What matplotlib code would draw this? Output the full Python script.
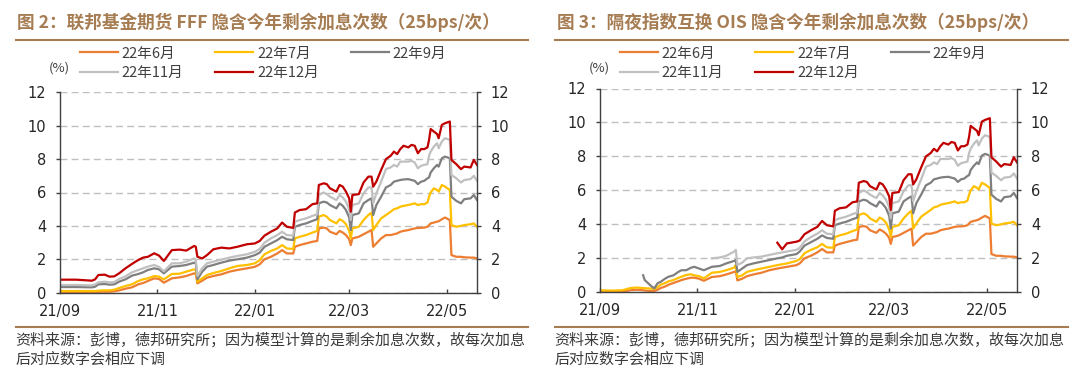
import matplotlib
matplotlib.use("Agg")
import matplotlib.pyplot as plt
import matplotlib.dates as mdates
from matplotlib.lines import Line2D
import numpy as np
import pandas as pd

nan = np.nan
CJK = ["Noto Sans CJK SC", "DejaVu Sans"]

series_names = ["22年6月", "22年7月", "22年9月", "22年11月", "22年12月"]
line_colors = ["#ED7D31", "#FFC000", "#7F7F7F", "#C0C0C0", "#C00000"]

# ---------------------------------------------------------------------------
# FFF chart, Sep 2021 - early Jan 2022
fff_dates = ["2021-09-01", "2021-09-11", "2021-09-21", "2021-09-23", "2021-09-25", "2021-09-29",
             "2021-10-02", "2021-10-05", "2021-10-08", "2021-10-12", "2021-10-16", "2021-10-20",
             "2021-10-23", "2021-10-26", "2021-10-30", "2021-11-02", "2021-11-05", "2021-11-10",
             "2021-11-15", "2021-11-19", "2021-11-24", "2021-11-25", "2021-11-26", "2021-11-29",
             "2021-12-02", "2021-12-06", "2021-12-11", "2021-12-16", "2021-12-21", "2021-12-27",
             "2022-01-01", "2022-01-04"]
fff_jun = [0.02, 0.02, 0.03, 0.03, 0.05, 0.06, 0.06, 0.08, 0.14, 0.24, 0.32, 0.50, 0.58, 0.70, 0.86, 0.82,
           0.60, 0.86, 0.92, 1.00, 1.16, 1.12, 0.56, 0.72, 0.90, 1.00, 1.10, 1.26, 1.36, 1.46, 1.55, 1.70]
fff_jul = [0.10, 0.10, 0.10, 0.10, 0.12, 0.14, 0.14, 0.18, 0.28, 0.40, 0.50, 0.70, 0.80, 0.86, 1.00, 0.96,
           0.80, 1.12, 1.14, 1.26, 1.40, 1.36, 0.66, 0.86, 1.06, 1.18, 1.30, 1.46, 1.60, 1.66, 1.76, 1.95]
fff_sep = [0.34, 0.34, 0.32, 0.36, 0.50, 0.52, 0.48, 0.50, 0.66, 0.80, 1.02, 1.12, 1.22, 1.36, 1.46, 1.40,
           1.16, 1.56, 1.60, 1.66, 1.80, 1.75, 0.80, 1.26, 1.56, 1.66, 1.80, 1.92, 2.00, 2.10, 2.25, 2.40]
fff_nov = [0.46, 0.46, 0.44, 0.50, 0.62, 0.66, 0.62, 0.64, 0.82, 0.98, 1.22, 1.36, 1.46, 1.56, 1.66, 1.54,
           1.28, 1.76, 1.76, 1.86, 2.05, 1.95, 1.00, 1.46, 1.76, 1.86, 1.98, 2.10, 2.20, 2.30, 2.45, 2.62]
fff_dec = [0.78, 0.78, 0.72, 0.80, 1.06, 1.08, 0.96, 0.98, 1.16, 1.46, 1.72, 1.96, 2.10, 2.15, 2.36, 2.22,
           1.90, 2.55, 2.58, 2.52, 2.80, 2.75, 2.15, 2.05, 2.25, 2.60, 2.70, 2.65, 2.75, 2.90, 2.95, 3.10]

# OIS chart, Sep 2021 - early Jan 2022 (some contracts start later)
ois_dates = ["2021-09-01", "2021-09-08", "2021-09-15", "2021-09-20", "2021-09-24", "2021-09-28",
             "2021-09-29", "2021-10-03", "2021-10-05", "2021-10-07", "2021-10-09", "2021-10-12",
             "2021-10-14", "2021-10-17", "2021-10-20", "2021-10-22", "2021-10-25", "2021-10-28",
             "2021-10-30", "2021-11-02", "2021-11-05", "2021-11-10", "2021-11-15", "2021-11-19",
             "2021-11-24", "2021-11-25", "2021-11-26", "2021-11-29", "2021-12-02", "2021-12-06",
             "2021-12-11", "2021-12-16", "2021-12-21", "2021-12-24", "2021-12-27", "2022-01-02",
             "2022-01-04"]
ois_jun = [0.05, 0.04, 0.05, 0.12, 0.15, 0.12, 0.10, 0.08, 0.08, 0.15, 0.25, 0.35, 0.45, 0.55, 0.65, 0.72,
           0.80, 0.86, 0.86, 0.80, 0.68, 0.90, 0.95, 1.05, 1.20, 1.25, 0.70, 0.80, 0.95, 1.05, 1.15, 1.30,
           1.40, 1.45, 1.50, 1.60, 1.70]
ois_jul = [0.12, 0.10, 0.12, 0.25, 0.28, 0.25, 0.24, 0.22, 0.20, 0.30, 0.45, 0.55, 0.65, 0.72, 0.85, 0.92,
           1.02, 1.06, 1.00, 0.95, 0.82, 1.15, 1.20, 1.30, 1.45, 1.60, 0.90, 1.00, 1.20, 1.30, 1.40, 1.50,
           1.60, 1.65, 1.70, 1.85, 1.95]
ois_sep = [nan, nan, nan, nan, nan, 1.00, 0.72, 0.37, 0.23, 0.53, 0.62, 0.82, 0.92, 1.00, 1.20, 1.30,
           1.30, 1.45, 1.50, 1.40, 1.30, 1.50, 1.55, 1.70, 1.85, 1.90, 1.20, 1.40, 1.60, 1.70, 1.80, 1.90,
           2.00, 2.05, 2.15, 2.25, 2.40]
ois_nov = [nan, nan, nan, nan, nan, nan, nan, nan, nan, nan, nan, nan, nan, nan, nan, nan,
           nan, nan, nan, nan, nan, 2.00, 2.05, 2.15, 2.40, 2.50, 1.60, 1.75, 2.00, 2.05, 2.10, 2.20,
           2.30, 2.35, 2.40, 2.50, 2.62]
ois_dec = [nan, nan, nan, nan, nan, nan, nan, nan, nan, nan, nan, nan, nan, nan, nan, nan,
           nan, nan, nan, nan, nan, nan, nan, nan, nan, nan, nan, nan, nan, nan, nan, nan,
           2.92, 2.53, 2.88, 2.98, 3.05]

# from Jan 2022 on both charts read the same
late_dates = ["2022-01-07", "2022-01-11", "2022-01-15", "2022-01-18", "2022-01-21", "2022-01-25",
              "2022-01-26", "2022-01-29", "2022-02-02", "2022-02-06", "2022-02-09", "2022-02-10",
              "2022-02-13", "2022-02-15", "2022-02-17", "2022-02-21", "2022-02-23", "2022-02-25",
              "2022-02-27", "2022-03-01", "2022-03-02", "2022-03-03", "2022-03-07", "2022-03-10",
              "2022-03-13", "2022-03-15", "2022-03-16", "2022-03-18", "2022-03-21", "2022-03-24",
              "2022-03-27", "2022-03-29", "2022-03-31", "2022-04-02", "2022-04-04", "2022-04-07",
              "2022-04-09", "2022-04-11", "2022-04-13", "2022-04-15", "2022-04-17", "2022-04-19",
              "2022-04-20", "2022-04-21", "2022-04-23", "2022-04-25", "2022-04-26", "2022-04-28",
              "2022-04-30", "2022-05-03", "2022-05-04", "2022-05-07", "2022-05-10", "2022-05-12",
              "2022-05-16", "2022-05-18", "2022-05-20"]
late_jun = [2.00, 2.15, 2.35, 2.55, 2.35, 2.35, 2.75, 2.85, 2.95, 3.05, 3.10, 3.85, 3.90, 3.85, 3.65, 3.50,
            3.70, 3.60, 3.45, 3.20, 2.85, 3.25, 3.35, 3.50, 3.65, 3.75, 2.75, 2.95, 3.25, 3.45, 3.45, 3.50,
            3.55, 3.65, 3.70, 3.75, 3.80, 3.85, 3.88, 3.88, 3.90, 3.95, 4.05, 4.15, 4.20, 4.25, 4.28, 4.40,
            4.50, 4.35, 2.25, 2.15, 2.15, 2.12, 2.10, 2.10, 2.05]
late_jul = [2.30, 2.50, 2.65, 2.85, 2.65, 2.62, 3.25, 3.35, 3.45, 3.60, 3.70, 4.55, 4.65, 4.55, 4.35, 4.15,
            4.40, 4.30, 4.10, 3.70, 3.25, 3.85, 3.95, 4.35, 4.65, 4.80, 3.75, 4.05, 4.45, 4.65, 4.85, 5.00,
            5.05, 5.15, 5.20, 5.25, 5.30, 5.35, 5.25, 5.30, 5.30, 5.40, 5.75, 6.00, 6.25, 6.15, 6.05, 6.45,
            6.35, 6.15, 4.05, 3.95, 4.00, 4.05, 4.10, 4.15, 3.95]
late_sep = [2.75, 2.95, 3.15, 3.35, 3.20, 3.15, 3.95, 4.05, 4.15, 4.30, 4.40, 5.35, 5.45, 5.40, 5.25, 5.05,
            5.35, 5.20, 4.95, 4.50, 3.75, 4.65, 4.75, 5.35, 5.55, 5.65, 4.65, 5.25, 5.75, 6.30, 6.45, 6.65,
            6.70, 6.75, 6.78, 6.80, 6.75, 6.70, 6.50, 6.65, 6.70, 6.85, 6.90, 7.20, 7.45, 7.65, 7.55, 8.05,
            8.15, 8.05, 5.75, 5.50, 5.35, 5.60, 5.65, 5.85, 5.55]
late_nov = [3.00, 3.25, 3.45, 3.65, 3.45, 3.42, 4.25, 4.35, 4.45, 4.60, 4.70, 5.85, 6.00, 5.90, 5.75, 5.55,
            5.85, 5.70, 5.45, 5.00, 4.35, 5.25, 5.35, 5.95, 6.30, 6.30, 5.35, 5.95, 6.65, 7.40, 7.50, 7.65,
            7.55, 7.85, 7.85, 7.85, 7.90, 7.80, 7.45, 7.60, 7.65, 7.70, 8.20, 8.45, 8.75, 8.95, 8.65, 9.05,
            9.25, 9.15, 7.05, 6.85, 6.60, 6.75, 6.80, 7.00, 6.70]
late_dec = [3.42, 3.65, 3.85, 4.20, 3.95, 3.88, 4.80, 4.95, 5.00, 5.30, 5.35, 6.45, 6.55, 6.50, 6.25, 6.05,
            6.45, 6.35, 6.05, 5.65, 4.85, 5.85, 5.90, 6.60, 6.95, 6.95, 6.35, 6.65, 7.35, 8.00, 8.20, 8.45,
            8.30, 8.60, 8.80, 8.70, 8.85, 8.80, 8.35, 8.60, 8.60, 8.70, 9.15, 9.80, 9.65, 9.50, 9.25, 10.05,
            10.15, 10.25, 7.95, 7.70, 7.40, 7.55, 7.50, 7.95, 7.65]

titles = ["图 2：联邦基金期货 FFF 隐含今年剩余加息次数（25bps/次）",
          "图 3：隔夜指数互换 OIS 隐含今年剩余加息次数（25bps/次）"]
source_1 = "资料来源：彭博，德邦研究所；因为模型计算的是剩余加息次数，故每次加息"
source_2 = "后对应数字会相应下调"
tick_dates = ["2021-09-01", "2021-11-01", "2022-01-01", "2022-03-01", "2022-05-01"]

BROWN = "#A67C52"
W, H = 1080, 373


def fx(px):
    return px / W


def fy(py):
    return 1 - py / H


def draw_panel(fig, rect, dates, cols, off):
    ax = fig.add_axes(rect)
    x = pd.to_datetime(dates)
    lines = []
    for name, vals, c in zip(series_names, cols, line_colors):
        ln, = ax.plot(x, vals, color=c, lw=1.6, label=name)
        lines.append(ln)
    ax.set_xlim(pd.Timestamp("2021-09-01"), pd.Timestamp("2022-05-20"))
    ax.set_ylim(0, 12)
    ax.set_yticks(range(0, 13, 2))
    ax.set_xticks(pd.to_datetime(tick_dates))
    ax.xaxis.set_major_formatter(mdates.DateFormatter("%y/%m"))
    ax.set_axisbelow(True)
    ax.grid(axis="y", color="#BFBFBF", linestyle=(0, (5, 3)), linewidth=1.0)
    ax.spines["top"].set_visible(False)
    for s in ["left", "right", "bottom"]:
        ax.spines[s].set_color("#404040")
        ax.spines[s].set_linewidth(1.0)
    ax.tick_params(axis="y", direction="out", length=3, width=1, pad=7, labelsize=10.5,
                   left=True, right=True, labelleft=True, labelright=True,
                   color="#404040", labelcolor="#262626")
    ax.tick_params(axis="x", direction="in", length=3, width=1, pad=8, labelsize=10.5,
                   color="#404040", labelcolor="#262626")

    # legend row-wise: 6月 7月 9月 / 11月 12月
    order = [0, 3, 1, 4, 2]
    ax.legend([lines[i] for i in order], [series_names[i] for i in order], ncol=3,
              loc="upper left", bbox_to_anchor=(fx(80 + off), fy(46.5)),
              bbox_transform=fig.transFigure, frameon=False, borderpad=0, borderaxespad=0,
              handlelength=2.6, handletextpad=0.25, columnspacing=2.2, labelspacing=0.35,
              prop={"family": CJK, "size": 10.5}, labelcolor="#404040")
    fig.text(fx(59 + off), fy(68), "(%)", ha="center", va="center", fontsize=9.5,
             color="#404040", family=CJK)
    return ax


fig = plt.figure(figsize=(10.8, 3.73), dpi=100)

draw_panel(fig, [fx(60), fy(292.7), fx(417), 200.4 / H], fff_dates + late_dates,
           [fff_jun + late_jun, fff_jul + late_jul, fff_sep + late_sep,
            fff_nov + late_nov, fff_dec + late_dec], 0)
draw_panel(fig, [fx(600), fy(292.3), fx(417), 203.8 / H], ois_dates + late_dates,
           [ois_jun + late_jun, ois_jul + late_jul, ois_sep + late_sep,
            ois_nov + late_nov, ois_dec + late_dec], 540)

for i, off in enumerate([0, 540]):
    fig.text(fx(17 + off), fy(22), titles[i], fontsize=12.7, fontweight="bold", color=BROWN,
             va="center", ha="left", family=CJK)
    x0, x1 = (15.6, 528) if off == 0 else (554.6, 1068)
    fig.add_artist(Line2D([fx(x0), fx(x1)], [fy(39.5), fy(39.5)], transform=fig.transFigure,
                          color=BROWN, lw=1.5))
    fig.add_artist(Line2D([fx(x0), fx(x1)], [fy(326.5), fy(326.5)], transform=fig.transFigure,
                          color=BROWN, lw=1.5))
    fig.text(fx(x0), fy(339.5), source_1, fontsize=10.8, color="#3A3A3A", va="center",
             ha="left", family=CJK)
    fig.text(fx(x0), fy(359.5), source_2, fontsize=10.8, color="#3A3A3A", va="center",
             ha="left", family=CJK)

fig.savefig("out.png", dpi=100)
